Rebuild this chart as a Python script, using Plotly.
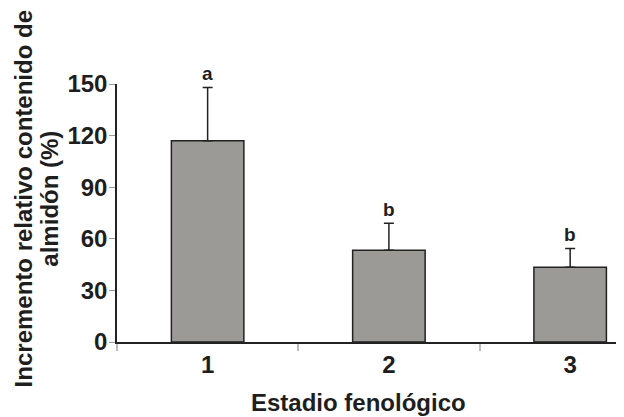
import plotly.graph_objects as go

categories = [1, 2, 3]
tick_labels = ["1", "2", "3"]
means = [117, 53.3, 43.5]
errors = [31, 15.7, 10.8]
letters = ["a", "b", "b"]
y_ticks = [0, 30, 60, 90, 120, 150]
y_title_lines = ["Incremento relativo contenido de", "almidón (%)"]
x_title = "Estadio fenológico"

FONT = "Liberation Sans, Arial, sans-serif"
TXT = "#1e1e1e"

fig = go.Figure()
fig.add_trace(go.Bar(
    x=categories, y=means, width=0.4,
    marker=dict(color="#9b9a96", line=dict(color="#222222", width=1.5)),
    error_y=dict(type="data", array=errors, arrayminus=[0]*len(errors), symmetric=False,
                 color="#222222", thickness=1.5, width=5),
))

for c, m, e, l in zip(categories, means, errors, letters):
    fig.add_annotation(x=c, y=m + e, text=l, showarrow=False, yshift=14,
                       font=dict(family=FONT, size=19, color=TXT, weight="bold"))

for xp, line in zip([-0.185, -0.133], y_title_lines):
    fig.add_annotation(xref="paper", yref="paper", x=xp, y=0.555, xanchor="center", yanchor="middle",
                       text=line, textangle=-90, showarrow=False,
                       font=dict(family=FONT, size=24, color=TXT, weight="bold"))

fig.add_annotation(xref="paper", yref="paper", x=0.479, y=-0.236, xanchor="center", yanchor="middle",
                   text=x_title, showarrow=False,
                   font=dict(family=FONT, size=24, color=TXT, weight="bold"))

fig.update_layout(
    width=624, height=417,
    margin=dict(l=109, r=10, t=76, b=83),
    plot_bgcolor="white", paper_bgcolor="white",
    showlegend=False,
    xaxis=dict(range=[0.5, 3.286], tickvals=categories, ticktext=tick_labels, ticks="",
               showline=True, linecolor="#222222", linewidth=1.5, showgrid=False, zeroline=False,
               automargin=False,
               tickfont=dict(family=FONT, size=24, color=TXT, weight="bold"),
               minor=dict(tickvals=[0.5, 1.5, 2.5], ticks="outside", ticklen=7, tickcolor="#bbbbbb", tickwidth=1.5)),
    yaxis=dict(range=[0, 150], tickvals=y_ticks, ticks="outside", ticklen=6, tickcolor="#999999", tickwidth=1,
               showline=True, linecolor="#222222", linewidth=1.5, showgrid=False, zeroline=False,
               automargin=False, ticklabelstandoff=-3,
               tickfont=dict(family=FONT, size=24, color=TXT, weight="bold")),
)

fig.write_html("out.html")
